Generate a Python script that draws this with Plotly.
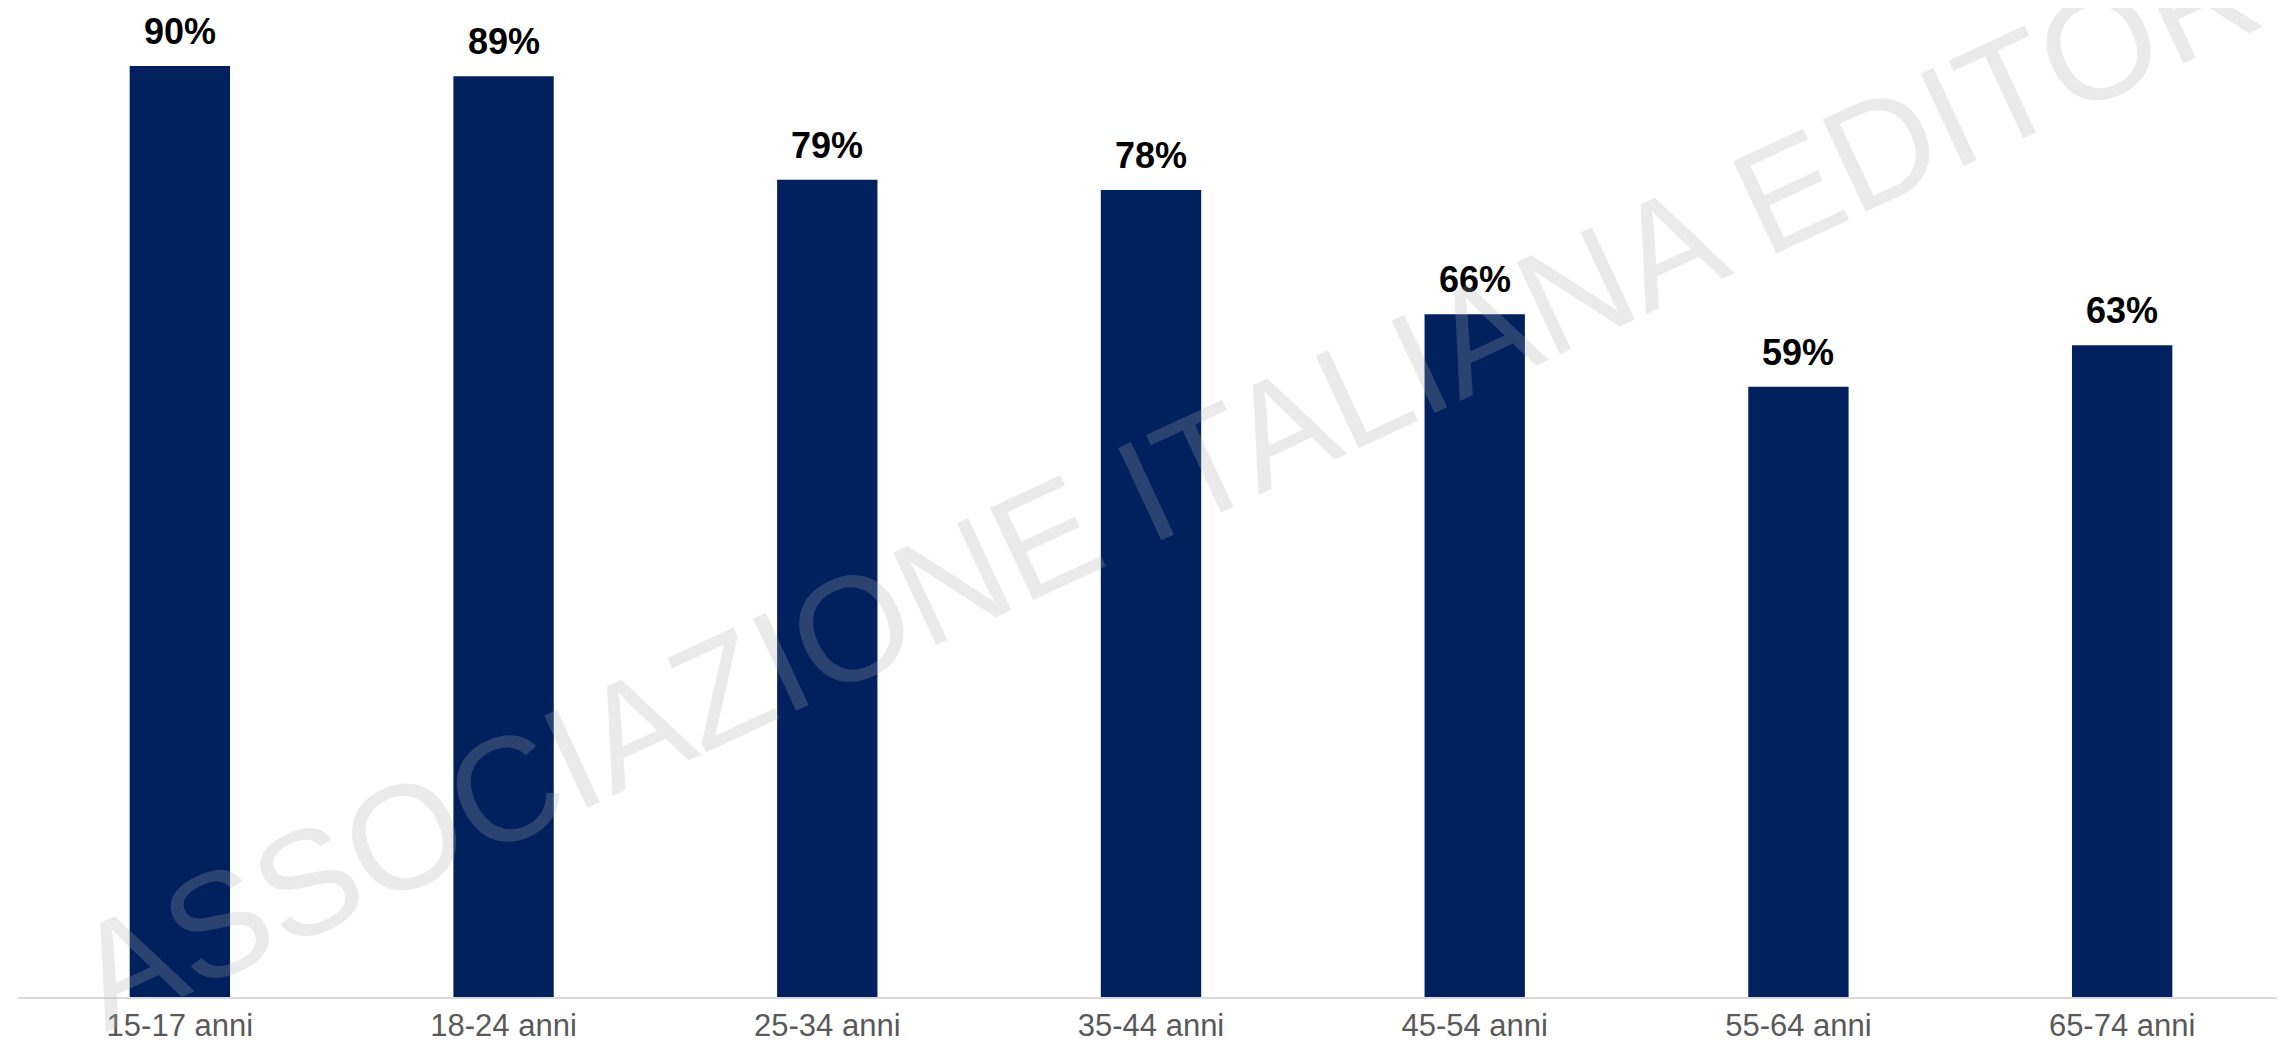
import plotly.graph_objects as go

# Age groups and share of readers (%)
categories = ["15-17 anni", "18-24 anni", "25-34 anni", "35-44 anni",
              "45-54 anni", "55-64 anni", "65-74 anni"]
values = [90, 89, 79, 78, 66, 59, 63]
labels = [f"{v}%" for v in values]

fig = go.Figure()
fig.add_trace(go.Bar(x=categories, y=values, marker_color="#00215E",
                     marker_line_width=0, hoverinfo="skip"))

# Data labels above bars
for c, v, t in zip(categories, values, labels):
    fig.add_annotation(x=c, y=v, text=f"<b>{t}</b>", showarrow=False,
                       yanchor="bottom", yshift=12,
                       font=dict(family="Liberation Sans, Arial", size=36, color="black"))

# Watermark
fig.add_annotation(xref="paper", yref="paper", x=0.515, y=0.53,
                   text="ASSOCIAZIONE ITALIANA EDITORI", showarrow=False,
                   textangle=-25,
                   font=dict(family="Liberation Sans, Arial", size=148,
                             color="rgba(170,170,170,0.25)"))

fig.update_layout(
    width=2285, height=1045,
    margin=dict(l=10, r=9, t=0, b=56),
    plot_bgcolor="white", paper_bgcolor="white",
    bargap=0.69, showlegend=False,
    font=dict(family="Liberation Sans, Arial"),
)
fig.update_xaxes(showline=True, linecolor="#D9D9D9", linewidth=2,
                 showgrid=False, ticks="",
                 tickfont=dict(size=31, color="#595959"))
fig.update_yaxes(range=[0, 95.6], visible=False, showgrid=False)

fig.write_html("out.html")
